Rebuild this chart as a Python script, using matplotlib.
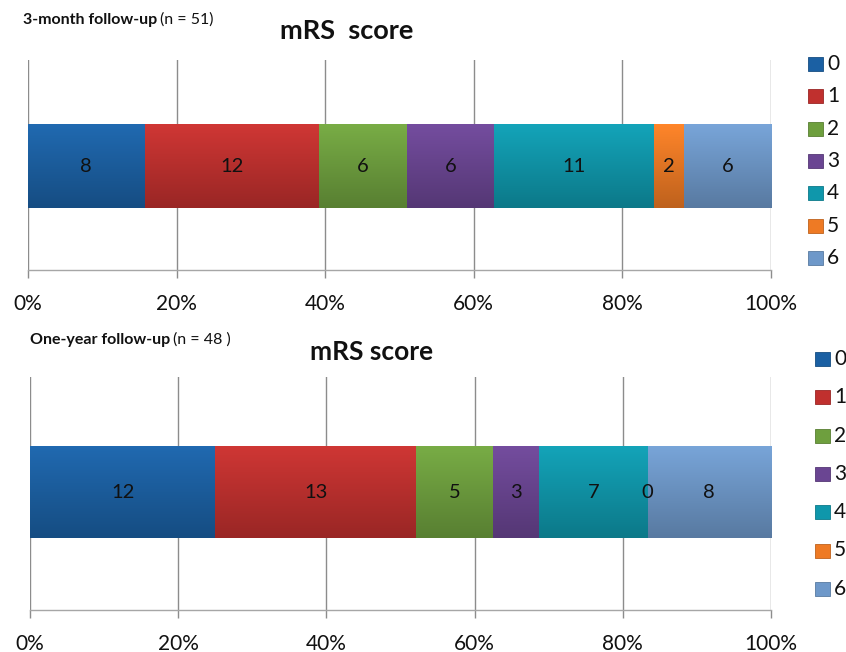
import numpy as np
import matplotlib
matplotlib.use("Agg")
import matplotlib.pyplot as plt
from matplotlib.colors import to_rgb
from matplotlib.patches import Rectangle

plt.rcParams['font.family'] = ['Lato', 'DejaVu Sans']

categories = ["0", "1", "2", "3", "4", "5", "6"]
colors = ["#1B60A3", "#C0302E", "#6E9F3E", "#6A4592", "#0F97AB", "#EE7A24", "#6E98C9"]
counts_3m = [8, 12, 6, 6, 11, 2, 6]
counts_1y = [12, 13, 5, 3, 7, 0, 8]
xticks = [0, 20, 40, 60, 80, 100]
xtick_labels = ["0%", "20%", "40%", "60%", "80%", "100%"]

W, H = 846, 652
fig = plt.figure(figsize=(W / 100, H / 100), dpi=100)
renderer = fig.canvas.get_renderer()


def px_axes(x0, y0, x1, y1):
    return fig.add_axes([x0 / W, 1 - y1 / H, (x1 - x0) / W, (y1 - y0) / H])


def draw_panel(ax, counts, bar_y, bar_h):
    total = sum(counts)
    pct = [100 * c / total for c in counts]
    left = np.concatenate([[0], np.cumsum(pct)[:-1]])
    ax.set_xlim(0, 100)
    ax.set_ylim(0, 1)
    for x in xticks:
        ax.axvline(x, color="#8c8c8c", lw=1.0, zorder=0)
    for i, (p, l) in enumerate(zip(pct, left)):
        b = ax.barh([bar_y], [p], left=[l], height=bar_h, color=colors[i],
                    edgecolor="none", zorder=2)[0]
        base = np.array(to_rgb(colors[i]))
        t = np.linspace(0, 1, 64)[:, None]
        top_c = np.clip(base * 1.06 + 0.015, 0, 1)
        bot_c = base * 0.80
        grad = (top_c * (1 - t) + bot_c * t)[:, None, :]
        if p > 0:
            im = ax.imshow(grad, extent=[l, l + p, bar_y - bar_h / 2, bar_y + bar_h / 2],
                           aspect="auto", zorder=3, interpolation="bilinear")
            im.set_clip_path(b)
        ax.text(l + p / 2, bar_y, str(counts[i]), ha="center", va="center",
                fontsize=14.5, color="#111111", zorder=4)
    ax.set_xticks(xticks)
    ax.set_xticklabels(xtick_labels, fontsize=15, color="#111111")
    ax.tick_params(axis="x", length=6, width=1.0, color="#8c8c8c", pad=11)
    ax.set_yticks([])
    for name, s in ax.spines.items():
        if name == "bottom":
            s.set_color("#a6a6a6")
            s.set_linewidth(1.0)
        else:
            s.set_visible(False)


def draw_subtitle(x_px, y_px, bold_part, plain_part):
    t = fig.text(x_px / W, 1 - y_px / H, bold_part, fontsize=11.5, fontweight="bold",
                 va="center", ha="left", color="#111111")
    bb = t.get_window_extent(renderer)
    fig.text((bb.x1 + 3) / W, 1 - y_px / H, plain_part, fontsize=11.5, va="center",
             ha="left", color="#111111")


def draw_legend(x_sq, y_first, step):
    for i, cat in enumerate(categories):
        yc = y_first + i * step
        fig.patches.append(Rectangle((x_sq / W, 1 - (yc + 7) / H), 15 / W, 14 / H,
                                     transform=fig.transFigure, facecolor=colors[i],
                                     edgecolor=np.array(to_rgb(colors[i])) * 0.8, lw=0.6))
        fig.text((x_sq + 19) / W, 1 - yc / H, cat, fontsize=15, va="center", ha="left",
                 color="#111111")


# 3-month follow-up
ax1 = px_axes(28, 60, 771, 270)
draw_panel(ax1, counts_3m, 0.495, 0.40)
draw_subtitle(23, 20, "3-month follow-up", "(n = 51)")
fig.text(347 / W, 1 - 31 / H, "mRS  score", fontsize=19.5, fontweight="bold",
         va="center", ha="center", color="#111111")
draw_legend(808, 64, 32.3)

# One-year follow-up
ax2 = px_axes(30, 377, 771, 610)
draw_panel(ax2, counts_1y, 0.506, 0.395)
draw_subtitle(30, 340, "One-year follow-up", "(n = 48 )")
fig.text(372 / W, 1 - 352 / H, "mRS score", fontsize=19, fontweight="bold",
         va="center", ha="center", color="#111111")
draw_legend(815, 359, 38.3)

fig.savefig("out.png", dpi=100)
